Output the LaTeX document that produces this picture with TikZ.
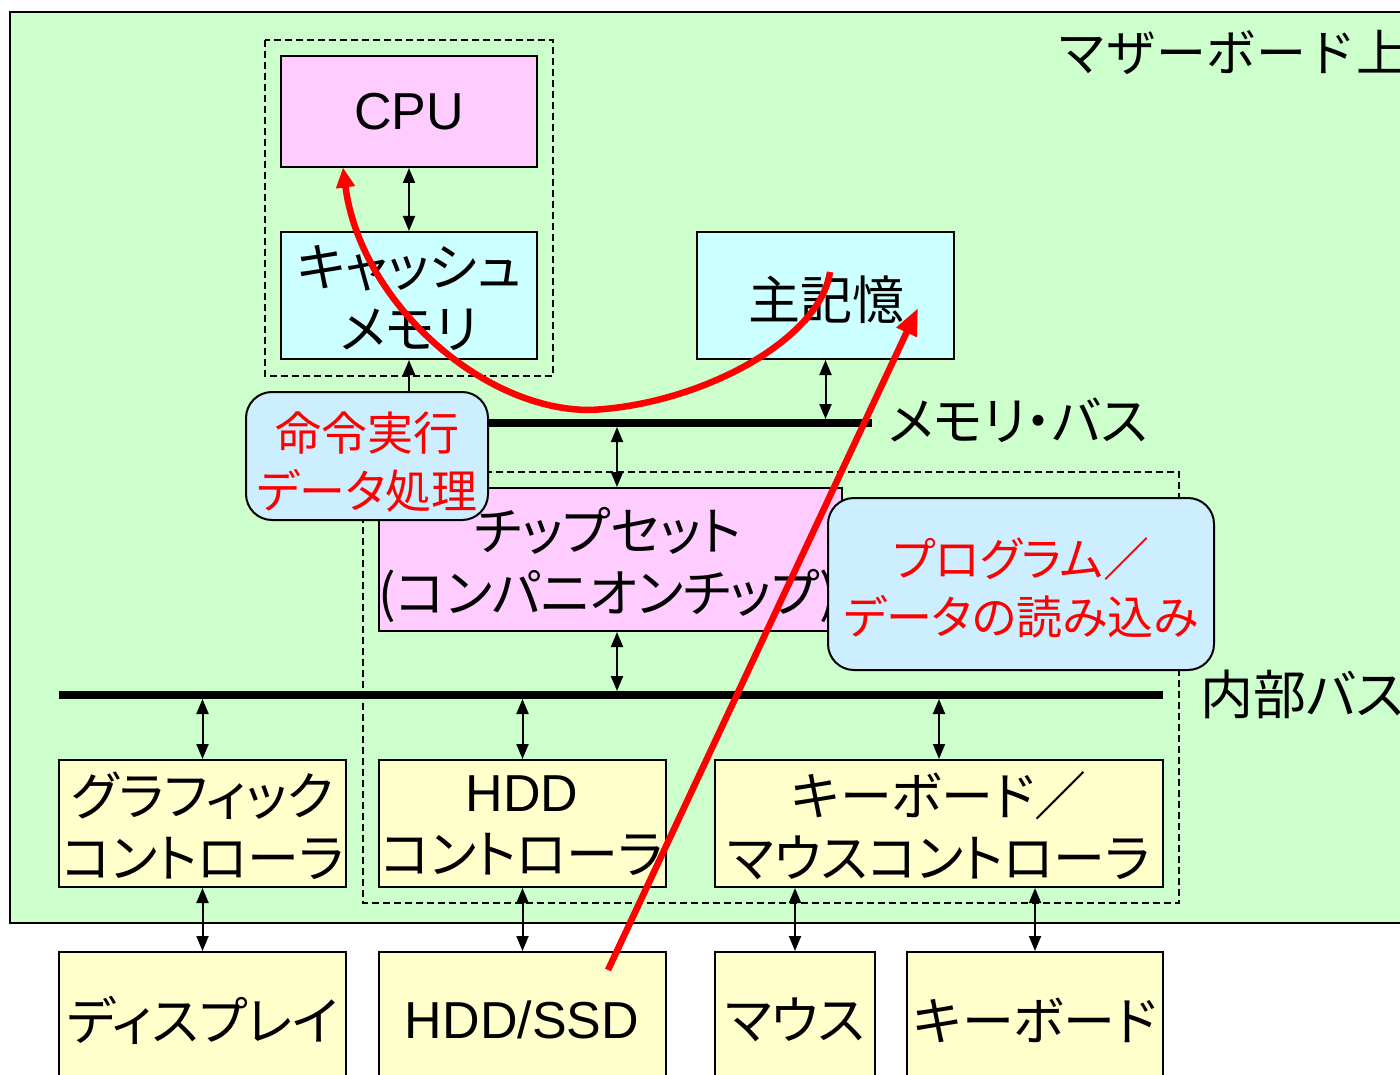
\documentclass[tikz,border=0pt]{standalone}
\usepackage{fontspec}
\setmainfont{Liberation Sans}
\newfontfamily\cjk[RawFeature=+palt]{Noto Sans CJK JP}
\newfontfamily\cjkfull{Noto Sans CJK JP}
\usetikzlibrary{arrows.meta}
\definecolor{mbgreen}{HTML}{CCFFCC}
\definecolor{cpupink}{HTML}{FFCCFF}
\definecolor{memcyan}{HTML}{CCFFFF}
\definecolor{ctlyellow}{HTML}{FFFFCC}
\definecolor{bubble}{HTML}{CCEEFF}
\begin{document}
\begin{tikzpicture}[x=1pt,y=-1pt,
  box/.style={draw=black,line width=2pt,inner sep=0pt},
  jp/.style={font=\cjk\fontsize{52}{62}\selectfont,align=center,inner sep=0pt},
  lat/.style={font=\rmfamily\fontsize{52}{62}\selectfont,inner sep=0pt},
  redlbl/.style={text=red,font=\cjk\fontsize{46}{58}\selectfont,align=center,inner sep=0pt},
  balloon/.style={draw=black,line width=2pt,rounded corners=26pt,fill=bubble,inner sep=0pt},
  bus/.style={line width=8pt},
  biarrow/.style={line width=2pt,{Triangle[length=15pt,width=12pt]}-{Triangle[length=15pt,width=12pt]}},
  uparrow/.style={line width=2pt,-{Triangle[length=15pt,width=12pt]}},
  frame/.style={draw=black,line width=1.6pt,dash pattern=on 7pt off 4pt},
  flow/.style={draw=red,line width=6.5pt}
]
\fill[white] (0,0) rectangle (1400,1075);
\useasboundingbox (0,0) rectangle (1400,1075);

% motherboard
\draw[line width=2pt,fill=mbgreen] (10,12) rectangle (1430,923);
\node[font=\cjkfull\fontsize{50}{58}\selectfont,anchor=west,inner sep=0pt] (mbl) at (1056,52) {マザーボード上};

% dashed groups
\draw[frame] (265,40) rectangle (553,376);
\draw[frame] (363,472) rectangle (1179,903);

% boxes
\node[box,fill=cpupink,minimum width=256pt,minimum height=111pt] (cpu) at (409,111.5) {};
\node[lat] (cput) at (409,112) {CPU};
\node[box,fill=memcyan,minimum width=256pt,minimum height=127pt] (cache) at (409,295.5) {};
\node[jp] (cachet) at (409,298) {キャッシュ\\メモリ};
\node[box,fill=memcyan,minimum width=257pt,minimum height=127pt] (mem) at (825.5,295.5) {};
\node[jp] (memt) at (826,300) {主記憶};
\node[box,fill=cpupink,minimum width=463pt,minimum height=143pt] (chip) at (610.5,559.5) {};
\node[jp] (chipt) at (608,565) {チップセット\\(コンパニオンチップ)};

\node[box,fill=ctlyellow,minimum width=287pt,minimum height=127pt] (gfx) at (202.5,823.5) {};
\node[jp] (gfxt) at (203,826) {グラフィック\\コントローラ};
\node[box,fill=ctlyellow,minimum width=287pt,minimum height=127pt] (hddc) at (522.5,823.5) {};
\node[jp] (hddct) at (522,826) {{\rmfamily HDD}\\コントローラ};
\node[box,fill=ctlyellow,minimum width=448pt,minimum height=127pt] (kbc) at (939,823.5) {};
\node[jp] (kbct) at (939,826) {キーボード／\\マウスコントローラ};

\node[box,fill=ctlyellow,minimum width=287pt,minimum height=150pt] (disp) at (202.5,1027) {};
\node[jp] (dispt) at (203,1020) {ディスプレイ};
\node[box,fill=ctlyellow,minimum width=287pt,minimum height=150pt] (hdd) at (522.5,1027) {};
\node[lat] (hddt) at (522,1020) {HDD/SSD};
\node[box,fill=ctlyellow,minimum width=160pt,minimum height=150pt] (mouse) at (795,1027) {};
\node[jp] (mouset) at (795,1020) {マウス};
\node[box,fill=ctlyellow,minimum width=256pt,minimum height=150pt] (kbd) at (1035,1027) {};
\node[jp] (kbdt) at (1035,1020) {キーボード};

% buses
\coordinate (mbL) at (400,423);
\coordinate (mbR) at (872,423);
\coordinate (ibL) at (59,695);
\coordinate (ibR) at (1163,695);
\coordinate (cx) at (617,0);
\draw[bus] (mbL) -- (mbR);
\draw[bus] (ibL) -- (ibR);
\node[jp,anchor=west] (mbt) at (888,420) {メモリ・バス};
\node[font=\cjk\fontsize{53}{62}\selectfont,inner sep=0pt,anchor=west] (ibt) at (1200,694) {内部バス};

% arrows
\draw[biarrow] (cpu.south) -- (cache.north);
\draw[uparrow,shorten <=4pt] (cache.south |- mbL) -- (cache.south);
\draw[biarrow,shorten >=4pt] (mem.south) -- (mem.south |- mbL);
\draw[biarrow,shorten <=4pt] (cx |- mbL) -- (cx |- chip.north);
\draw[biarrow,shorten >=4pt] (cx |- chip.south) -- (cx |- ibL);
\draw[biarrow,shorten <=4pt] (gfx.north |- ibL) -- (gfx.north);
\draw[biarrow,shorten <=4pt] (hddc.north |- ibL) -- (hddc.north);
\draw[biarrow,shorten <=4pt] (kbc.north |- ibL) -- (kbc.north);
\draw[biarrow] (gfx.south) -- (disp.north);
\draw[biarrow] (hddc.south) -- (hdd.north);
\draw[biarrow] (mouse.north |- kbc.south) -- (mouse.north);
\draw[biarrow] (kbd.north |- kbc.south) -- (kbd.north);

% balloons
\node[balloon,minimum width=242pt,minimum height=128pt] (exec) at (367,456) {};
\node[redlbl] (exect) at (367,462) {命令実行\\データ処理};
\node[balloon,minimum width=386pt,minimum height=172pt] (load) at (1021,584) {};
\node[redlbl] (loadt) at (1021,588) {プログラム／\\データの読み込み};

% red flows
\coordinate (c0) at (830,272);
\coordinate (cpuIn) at (343,167.5);
\draw[flow,-{Triangle[length=20pt,width=18pt]}] (c0) .. controls (820,340) and (700,405) .. (590,410) .. controls (480,410) and (360,300) .. (cpuIn);
\coordinate (s0) at (608,970);
\coordinate (s1) at (918,308);
\draw[flow,-{Triangle[length=27pt,width=21pt]}] (s0) -- (s1);
\end{tikzpicture}
\end{document}
